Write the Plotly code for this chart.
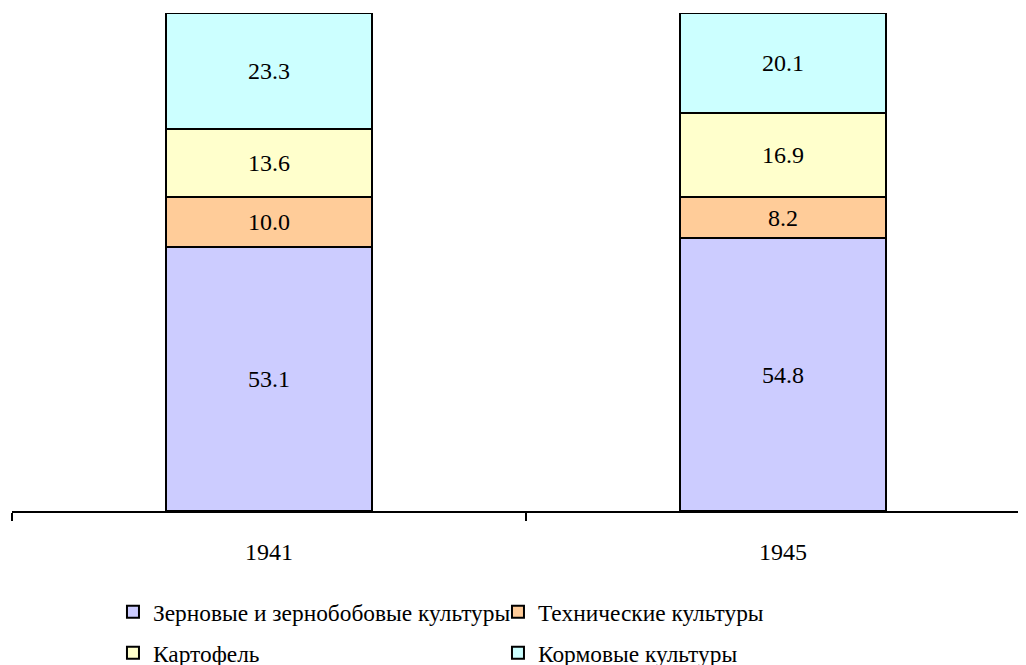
import plotly.graph_objects as go

years = ["1941", "1945"]
series_names = ["Зерновые и зернобобовые культуры", "Технические культуры", "Картофель", "Кормовые культуры"]
grain = [53.1, 54.8]
technical = [10.0, 8.2]
potato = [13.6, 16.9]
fodder = [23.3, 20.1]
colors = ["#CCCCFF", "#FFCC99", "#FFFFCC", "#CCFFFF"]
legend_ids = ["legend", "legend", "legend2", "legend2"]

FONT = "Liberation Serif, Times New Roman, serif"
FS = 24
LFS = 23.4
fig = go.Figure()
for name, vals, col, lg in zip(series_names, [grain, technical, potato, fodder], colors, legend_ids):
    fig.add_trace(go.Bar(
        x=years, y=vals, name=name, legend=lg,
        marker=dict(color=col, line=dict(color="black", width=2)),
        width=0.4,
        text=[f"{v:.1f}" for v in vals],
        textposition="inside", insidetextanchor="middle",
        textangle=0, constraintext="none",
        textfont=dict(family=FONT, size=FS, color="black"),
        hoverinfo="skip",
    ))

leg_common = dict(orientation="h", traceorder="normal",
                  x=0.0988, xanchor="left", yanchor="middle",
                  xref="paper", yref="container",
                  entrywidth=340, entrywidthmode="pixels",
                  font=dict(family=FONT, size=LFS, color="black"),
                  bgcolor="rgba(0,0,0,0)")

fig.update_layout(
    barmode="stack",
    width=1026, height=665,
    margin=dict(l=4, r=0, t=5, b=161.5, autoexpand=False),
    paper_bgcolor="white", plot_bgcolor="white",
    font=dict(family=FONT, size=FS, color="black"),
    showlegend=True,
    legend=dict(y=0.0917, **leg_common),
    legend2=dict(y=0.0301, **leg_common),
    xaxis=dict(type="category", range=[-0.5, -0.5 + 1022 / 514],
               showline=True, linecolor="black", linewidth=2,
               ticks="outside", tickson="boundaries", ticklen=8, tickwidth=2, tickcolor="black",
               ticklabelstandoff=18, showgrid=False, zeroline=False,
               tickfont=dict(family=FONT, size=FS, color="black")),
    yaxis=dict(range=[0, 100], visible=False, showgrid=False, zeroline=False),
)

fig.write_html("out.html")
